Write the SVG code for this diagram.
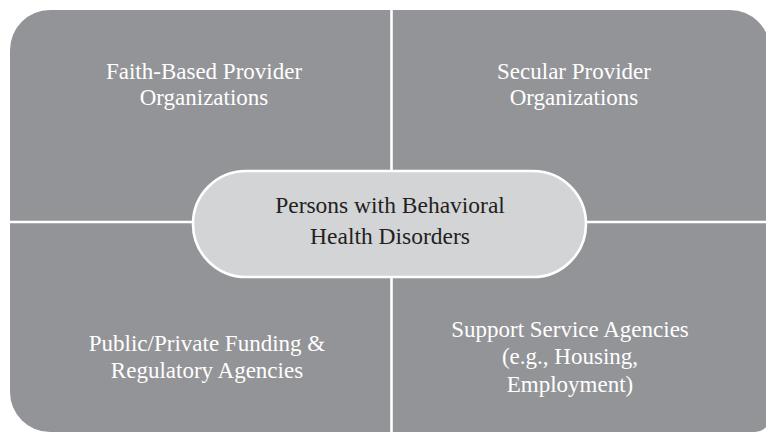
<svg xmlns="http://www.w3.org/2000/svg" width="766" height="433" viewBox="0 0 766 433">
<style>
.q{font-family:"Liberation Serif","Times New Roman",serif;font-size:23px;fill:#ffffff;text-anchor:middle}
.c{font-family:"Liberation Serif","Times New Roman",serif;font-size:23.5px;fill:#231f20;text-anchor:middle}
.div{stroke:#ffffff;stroke-width:2.6;fill:none}
</style>
<rect x="0" y="0" width="766" height="433" fill="#ffffff"/>
<g id="background">
<path d="M50,10 H730 A40,40 0 0 1 770,50 V417 A15,15 0 0 1 755,432 H50 A40,40 0 0 1 10,392 V50 A40,40 0 0 1 50,10 Z" fill="#939497"/>
</g>
<g id="connectors">
<line class="div" x1="391.5" y1="10" x2="391.5" y2="432"/>
<line class="div" x1="10" y1="222" x2="770" y2="222"/>
</g>
<g id="faith-based">
<text class="q" x="204" y="79">Faith-Based Provider</text>
<text class="q" x="204" y="105">Organizations</text>
</g>
<g id="secular">
<text class="q" x="574" y="79">Secular Provider</text>
<text class="q" x="574" y="105">Organizations</text>
</g>
<g id="funding">
<text class="q" x="207" y="351">Public/Private Funding &amp;</text>
<text class="q" x="207" y="378">Regulatory Agencies</text>
</g>
<g id="support">
<text class="q" x="570" y="337">Support Service Agencies</text>
<text class="q" x="570" y="364">(e.g., Housing,</text>
<text class="q" x="570" y="392">Employment)</text>
</g>
<g id="persons">
<rect x="193" y="171" width="393" height="106" rx="53" ry="53" fill="#d3d4d6" stroke="#ffffff" stroke-width="2.6"/>
<text class="c" x="390" y="213">Persons with Behavioral</text>
<text class="c" x="390" y="244">Health Disorders</text>
</g>
</svg>
